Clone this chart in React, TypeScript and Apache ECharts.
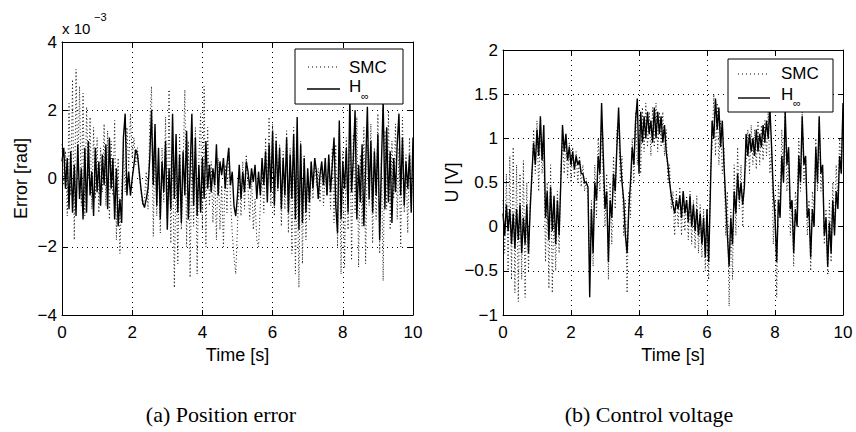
import React, { useEffect, useRef } from "react";
import * as echarts from "echarts";

// time step between samples [s]
const STEP = 0.05;

// (a) Position error, in units of 1e-3 rad
const errSMC = [
  1.0, -0.2, 0.8, -1.1, 2.2, -0.5, 2.9, -1.8, 3.2, 0.2,
  2.7, -0.8, 2.5, -1.1, 2.1, 0.0, 1.8, -0.9, 1.5, -0.6,
  1.2, -1.0, 0.9, -0.4, 1.6, -0.8, 1.4, -1.2, 1.1, -0.5,
  1.7, -1.8, 0.6, -2.2, -0.3, 0.9, -0.4, 1.5, 0.3, 1.9,
  0.6, 1.2, 0.4, 0.9, 0.1, -0.4, -0.8, -0.6, 0.2, -0.9,
  1.6, 2.7, -1.7, 1.4, -1.1, 0.6, -1.6, 0.9, -0.7, 1.8,
  -1.2, 2.6, -1.9, 1.0, -3.2, 0.5, -2.5, 1.3, -1.5, 0.4,
  2.6, -2.0, 1.1, -2.9, 0.8, -1.4, 1.5, -2.8, 0.6, 1.9,
  -1.5, 2.7, -2.0, 1.5, -0.8, 0.5, -1.3, 0.2, -1.8, 0.6,
  -1.5, -0.2, -2.0, 0.4, -1.0, 0.9, -0.6, -1.6, -2.3, -2.8,
  -1.4, 0.2, -1.1, 0.5, -0.9, 0.7, -0.3, -1.2, 0.1, -1.5,
  -0.6, -1.8, -2.0, -0.8, 0.3, -1.0, 1.2, -0.5, 1.8, -0.8,
  1.6, -1.1, 1.3, -0.4, 1.0, -1.4, 0.8, -0.9, 1.4, -1.6,
  0.9, -2.2, 1.5, -2.8, 0.4, -3.2, 1.1, -2.5, 0.7, -1.8,
  0.2, -1.2, 0.5, -0.6, 0.6, -0.2, 0.3, -0.7, 0.4, -0.8,
  0.2, -0.5, 0.6, -0.9, 0.9, -1.3, 1.0, -2.0, 1.4, -2.8,
  0.8, -2.6, 1.2, -1.5, 2.0, -2.4, 1.3, -1.0, 1.8, -2.6,
  0.7, -1.4, 1.5, -2.5, 1.0, -0.8, 1.6, -1.9, 0.9, -1.2,
  1.9, -2.2, 0.6, -3.0, 1.4, -0.9, 2.0, -1.5, 1.1, -0.6,
  1.6, -1.2, 0.9, -2.0, 1.8, -1.0, 0.7, -1.6, 1.2, -0.8,
  0.5,
];

const errHinf = [
  0.5, 0.9, -0.3, 0.6, -0.9, 0.8, -1.0, 0.4, -1.1, 1.0,
  -0.6, 0.3, -1.2, 0.9, -1.0, 1.1, -0.5, 0.2, -1.1, 0.9,
  -0.4, 0.5, -0.8, 0.7, -0.2, 1.0, -0.9, 1.2, -0.3, 0.6,
  -1.2, 0.3, -1.4, -0.6, -1.3, 1.2, 1.9, -0.5, 0.2, -0.5,
  0.0, 0.4, 0.85, 0.7, 0.2, -0.3, -0.7, -0.85, -0.6, -0.3,
  0.6, 2.0, -0.2, 1.6, -0.8, 0.9, -1.2, 0.5, -0.4, 1.1,
  -1.5, 0.3, -0.9, 1.9, -0.6, 1.3, -1.0, 0.7, -1.3, 0.8,
  -0.5, 1.4, -1.2, 0.2, 1.9, -0.8, 1.2, -1.1, 0.4, -1.0,
  0.6, -0.6, 1.1, -0.3, 0.4, -0.4, 0.3, -0.2, 1.0, -0.5,
  0.5, 0.1, 0.6, -0.3, 0.4, 0.9, -0.2, 0.2, -0.8, -1.1,
  -0.5, 0.4, -0.6, 0.2, -0.4, 0.5, 0.2, -0.3, 0.3, -0.1,
  0.4, -0.6, 0.2, -0.5, 0.6, -0.2, 0.8, -0.7, 1.0, -0.4,
  1.4, -0.8, 1.1, -0.3, 0.9, -0.9, 0.6, -0.5, 1.2, -1.0,
  0.7, -0.6, 1.3, -1.2, 1.8, -1.5, 1.0, -1.3, 0.6, -1.0,
  0.3, -0.7, 0.5, -0.3, 0.6, 0.2, -0.6, 0.1, 0.5, -0.2,
  0.6, -0.5, 0.7, -0.4, 0.4, 1.2, -0.8, -1.6, 1.7, -1.2,
  0.5, -0.3, 0.9, -1.0, 2.4, -0.4, 0.6, 2.0, -1.2, 0.4,
  -0.7, 1.0, -1.4, 0.3, 2.1, -0.6, 1.1, -1.0, 0.8, -0.5,
  1.3, -1.8, 0.4, 2.3, -0.9, 1.5, -0.7, 0.8, -1.3, 0.6,
  -0.4, 1.0, 1.9, -0.5, 1.2, -0.8, 0.5, -0.3, 0.7, -1.0,
  1.2,
];

// (b) Control voltage [V]
const uSMC = [
  0.3, -0.3, 0.6, -0.5, 0.8, -0.6, 0.9, -0.75, 0.7, -0.85,
  0.6, -0.6, 0.75, -0.8, 0.5, -0.5, 0.3, 0.5, 1.1, 0.6,
  1.2, 0.4, 1.15, 0.6, 0.9, -0.4, 0.5, -0.7, 0.7, -0.75,
  0.3, -0.5, 0.4, -0.3, 0.6, 1.0, 0.6, 1.0, 0.55, 0.95,
  0.5, 0.9, 0.55, 0.85, 0.5, 0.8, 0.45, 0.7, 0.4, 0.55,
  0.3, -0.5, 0.3, -0.45, 0.7, 0.1, 1.0, 0.4, 1.2, 0.5,
  0.0, 0.6, -0.6, 0.5, -0.2, 0.8, 0.2, 1.1, 1.2, 0.5,
  0.8, -0.1, 0.3, -0.75, 0.4, 0.1, 1.0, 0.5, 1.3, 0.7,
  1.0, 0.6, 1.35, 0.85, 1.4, 0.9, 1.3, 0.8, 1.35, 0.9,
  1.4, 0.85, 1.3, 0.9, 1.3, 0.8, 1.1, 0.5, 0.7, 0.2,
  0.4, -0.1, 0.4, 0.0, 0.45, -0.1, 0.4, -0.05, 0.35, -0.15,
  0.4, -0.2, 0.3, -0.25, 0.35, -0.3, 0.25, -0.35, 0.2, -0.5,
  0.1, -0.6, 0.6, 0.9, 1.5, 0.8, 1.4, 0.7, 1.2, 0.6,
  0.9, -0.1, 0.4, -0.9, 0.2, -0.6, 0.7, -0.1, 0.9, 0.2,
  0.7, 0.0, 0.6, 0.7, 1.1, 0.6, 1.15, 0.7, 1.1, 0.65,
  1.2, 0.7, 1.15, 0.75, 1.2, 0.8, 1.3, 0.6, 0.9, -0.2,
  0.3, -0.8, 0.5, 0.2, 1.1, 0.5, 1.3, 0.4, 0.8, -0.1,
  0.3, -0.45, 0.4, 0.2, 1.0, 0.4, 1.3, 0.5, 0.8, -0.1,
  0.3, -0.5, 0.4, 0.2, 1.0, 0.4, 1.2, 0.4, 0.7, -0.2,
  0.2, -0.55, 0.3, -0.4, 0.5, -0.1, 0.7, 0.3, 1.0, 0.6,
  1.4,
];

const uHinf = [
  0.15, -0.1, 0.25, -0.05, 0.2, -0.2, 0.15, -0.25, 0.2, -0.15,
  0.25, -0.3, 0.1, -0.2, 0.25, -0.3, 0.2, 0.6, 0.95, 0.7,
  1.1, 0.8, 1.25, 0.75, 1.15, 0.1, 0.4, -0.15, 0.45, -0.05,
  0.35, -0.2, 0.3, -0.1, 0.5, 1.15, 0.85, 1.05, 0.75, 0.9,
  0.7, 0.85, 0.65, 0.8, 0.7, 0.75, 0.6, 0.6, 0.5, 0.5,
  0.45, -0.8, 0.2, -0.3, 0.5, 0.3, 0.8, 0.6, 1.4, 0.8,
  0.2, 0.4, -0.4, 0.3, 0.1, 0.6, 0.4, 0.9, 1.35, 0.8,
  0.5, 0.3, -0.1, -0.3, 0.2, 0.5, 0.9, 0.7, 1.2, 1.45,
  0.6, 1.3, 0.95, 1.25, 1.0, 1.3, 1.05, 1.2, 0.95, 1.35,
  1.0, 1.3, 1.05, 1.25, 0.95, 1.15, 0.85, 0.7, 0.5, 0.35,
  0.25, 0.15, 0.3, 0.2, 0.35, 0.1, 0.4, 0.15, 0.3, 0.05,
  0.35, 0.0, 0.25, -0.05, 0.2, -0.1, 0.15, -0.2, 0.1, -0.35,
  0.2, -0.4, 0.4, 1.2, 1.0, 1.45, 1.1, 1.35, 0.9, 1.2,
  0.7, 0.3, -0.1, -0.45, 0.1, -0.2, 0.4, 0.15, 0.6, 0.3,
  0.5, 0.25, 0.45, 1.05, 0.8, 1.05, 0.85, 1.0, 0.8, 1.1,
  0.85, 1.05, 0.9, 1.15, 0.95, 1.2, 1.0, 1.35, 0.9, 0.4,
  0.1, -0.4, 0.3, 0.1, 0.8, 0.5, 1.3, 0.7, 0.9, 0.2,
  0.3, -0.3, 0.2, 0.0, 0.8, 0.5, 1.25, 0.7, 0.8, 0.1,
  0.2, -0.35, 0.2, 0.0, 0.9, 0.5, 1.25, 0.6, 0.7, -0.1,
  0.1, -0.45, 0.05, -0.3, 0.3, -0.1, 0.4, 0.2, 0.8, 0.6,
  1.4,
];

const timeTicks = { min: 0, max: 10, interval: 2 };
const errTicks = { min: -4, max: 4, interval: 2 };
const uTicks = { min: -1, max: 2, interval: 0.5 };

const AXIS_FONT = "'Liberation Sans', Arial, Helvetica, sans-serif";
const SERIF = "'Liberation Serif', 'Times New Roman', serif";

const toPairs = (vals: number[]) =>
  vals.map((v, i) => [Math.round(i * STEP * 100) / 100, v]);

const fmt = (v: number) => (v < 0 ? "\u2212" + Math.abs(v) : String(v));

export default function App() {
  const ref = useRef<HTMLDivElement>(null);

  useEffect(() => {
    if (!ref.current) return;
    const chart = echarts.init(ref.current, undefined, { renderer: "svg" });

    const tick = { show: true, inside: true, length: 5, lineStyle: { color: "#000" } };
    const label = { color: "#000", fontSize: 17, fontFamily: AXIS_FONT, formatter: fmt };
    const split = { show: true, lineStyle: { color: "#000", width: 1, type: [1, 4] } };
    const line = { show: true, onZero: false, lineStyle: { color: "#000", width: 1 } };

    const xBottom = (gridIndex: number) => ({
      type: "value",
      gridIndex,
      ...timeTicks,
      name: "Time [s]",
      nameLocation: "middle",
      nameGap: 30,
      nameTextStyle: { color: "#000", fontSize: 18, fontFamily: AXIS_FONT },
      axisLine: line,
      axisTick: tick,
      axisLabel: { ...label, margin: 9 },
      splitLine: split,
    });
    const xTop = (gridIndex: number) => ({
      type: "value",
      gridIndex,
      position: "top",
      ...timeTicks,
      axisLine: line,
      axisTick: tick,
      axisLabel: { show: false },
      splitLine: { show: false },
    });

    const yLeft = (gridIndex: number, ticks: any, name: string, gap: number) => ({
      type: "value",
      gridIndex,
      ...ticks,
      name,
      nameLocation: "middle",
      nameGap: gap,
      nameRotate: 90,
      nameTextStyle: { color: "#000", fontSize: 18, fontFamily: AXIS_FONT },
      axisLine: line,
      axisTick: tick,
      axisLabel: { ...label, margin: 5 },
      splitLine: split,
    });
    const yRight = (gridIndex: number, ticks: any) => ({
      type: "value",
      gridIndex,
      position: "right",
      ...ticks,
      axisLine: line,
      axisTick: tick,
      axisLabel: { show: false },
      splitLine: { show: false },
    });

    const smcStyle = { color: "#111", width: 1, type: [1, 2.5] };
    const hStyle = { color: "#000", width: 1.4 };

    chart.setOption({
      animation: false,
      backgroundColor: "#fff",
      grid: [
        { left: 62, top: 42, width: 351, height: 273 },
        { left: 503, top: 50, width: 340, height: 265 },
      ],
      xAxis: [xBottom(0), xBottom(1), xTop(0), xTop(1)],
      yAxis: [
        yLeft(0, errTicks, "Error [rad]", 32),
        yLeft(1, uTicks, "U [V]", 42),
        yRight(0, errTicks),
        yRight(1, uTicks),
      ],
      series: [
        { name: "SMC", type: "line", xAxisIndex: 0, yAxisIndex: 0, data: toPairs(errSMC), showSymbol: false, symbol: "none", lineStyle: smcStyle, z: 2 },
        { name: "Hinf", type: "line", xAxisIndex: 0, yAxisIndex: 0, data: toPairs(errHinf), showSymbol: false, symbol: "none", lineStyle: hStyle, z: 3 },
        { name: "SMC", type: "line", xAxisIndex: 1, yAxisIndex: 1, data: toPairs(uSMC), showSymbol: false, symbol: "none", lineStyle: smcStyle, z: 2 },
        { name: "Hinf", type: "line", xAxisIndex: 1, yAxisIndex: 1, data: toPairs(uHinf), showSymbol: false, symbol: "none", lineStyle: hStyle, z: 3 },
      ],
      graphic: [
        // exponent label on left plot
        { type: "text", z: 10, x: 62, y: 28, style: { text: "x 10", fill: "#000", font: `15px ${AXIS_FONT}`, verticalAlign: "middle" } },
        { type: "text", z: 10, x: 94, y: 17, style: { text: "\u22123", fill: "#000", font: `11px ${AXIS_FONT}`, verticalAlign: "middle" } },
        // legend (a)
        { type: "rect", z: 10, shape: { x: 295, y: 49, width: 108, height: 55 }, style: { fill: "#fff", stroke: "#000", lineWidth: 1 } },
        { type: "line", z: 11, shape: { x1: 308, y1: 67, x2: 340, y2: 67 }, style: { stroke: "#000", lineWidth: 1, lineDash: [1, 3] } },
        { type: "text", z: 11, x: 349, y: 67, style: { text: "SMC", fill: "#000", font: `17px ${AXIS_FONT}`, verticalAlign: "middle" } },
        { type: "line", z: 11, shape: { x1: 307, y1: 89, x2: 340, y2: 89 }, style: { stroke: "#000", lineWidth: 1.4 } },
        { type: "text", z: 11, x: 349, y: 86, style: { text: "H", fill: "#000", font: `17px ${AXIS_FONT}`, verticalAlign: "middle" } },
        { type: "text", z: 11, x: 361, y: 96, style: { text: "\u221e", fill: "#000", font: `11px ${AXIS_FONT}`, verticalAlign: "middle" } },
        // legend (b)
        { type: "rect", z: 10, shape: { x: 728, y: 59, width: 105, height: 53 }, style: { fill: "#fff", stroke: "#000", lineWidth: 1 } },
        { type: "line", z: 11, shape: { x1: 738, y1: 74, x2: 770, y2: 74 }, style: { stroke: "#000", lineWidth: 1, lineDash: [1, 3] } },
        { type: "text", z: 11, x: 781, y: 73, style: { text: "SMC", fill: "#000", font: `17px ${AXIS_FONT}`, verticalAlign: "middle" } },
        { type: "line", z: 11, shape: { x1: 738, y1: 98, x2: 770, y2: 98 }, style: { stroke: "#000", lineWidth: 1.4 } },
        { type: "text", z: 11, x: 781, y: 94, style: { text: "H", fill: "#000", font: `17px ${AXIS_FONT}`, verticalAlign: "middle" } },
        { type: "text", z: 11, x: 793, y: 103, style: { text: "\u221e", fill: "#000", font: `11px ${AXIS_FONT}`, verticalAlign: "middle" } },
        // captions
        { type: "text", z: 10, x: 221, y: 414, style: { text: "(a) Position error", fill: "#000", font: `22px ${SERIF}`, align: "center", verticalAlign: "middle" } },
        { type: "text", z: 10, x: 649, y: 414, style: { text: "(b) Control voltage", fill: "#000", font: `22px ${SERIF}`, align: "center", verticalAlign: "middle" } },
      ],
    });

    return () => chart.dispose();
  }, []);

  return <div ref={ref} style={{ width: 856, height: 432, position: "absolute", left: 0, top: 0, background: "#fff" }} />;
}
